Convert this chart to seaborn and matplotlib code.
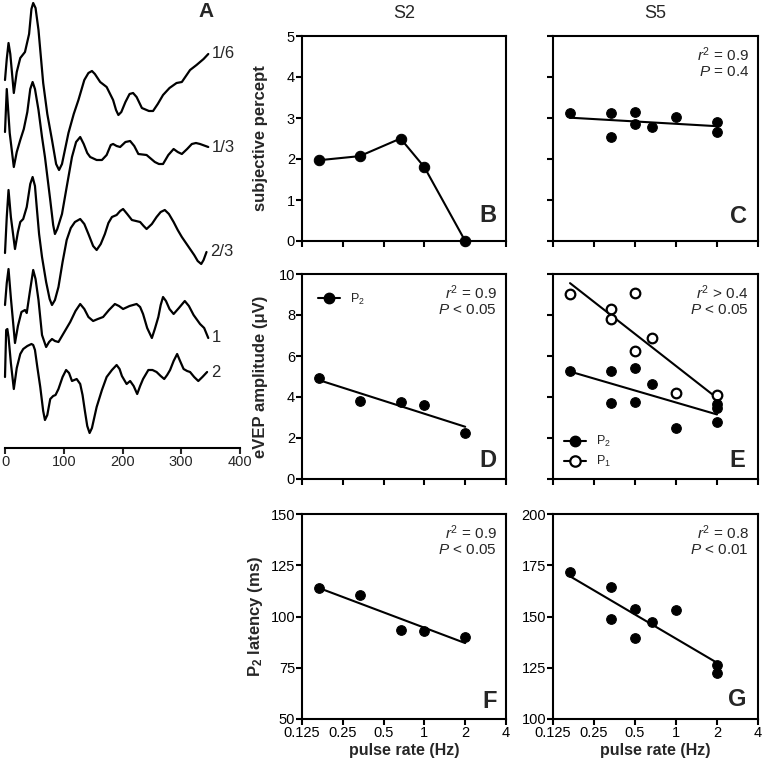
import numpy as np
import matplotlib
matplotlib.use("Agg")
import matplotlib.pyplot as plt
import seaborn as sns
from matplotlib.lines import Line2D
from matplotlib.ticker import FixedLocator, FixedFormatter, NullLocator

# --- Panel A: averaged eVEP traces (time in ms, amplitude in arbitrary units) ---
TRACE_LABELS = ["1/6", "1/3", "2/3", "1", "2"]
TRACE_OFFSETS = [5.4, 14.7, 25.2, 33.8, 37.3]

t_1_6 = [0, 3, 6, 9, 15, 20, 26, 34, 41, 45, 48, 52, 57, 65, 72, 80, 87, 92, 97, 108,
         117, 125, 135, 142, 148, 153, 162, 173, 184, 189, 193, 198, 205, 212, 218, 224,
         233, 245, 252, 260, 269, 280, 292, 301, 308, 315, 326, 338, 346]
a_1_6 = [-2.6, -0.5, 1.1, 0.0, -3.9, -1.8, -0.4, 0.2, 2.0, 4.5, 5.1, 4.6, 2.4, -2.9,
         -6.0, -8.6, -11.0, -11.6, -11.0, -7.9, -6.0, -4.6, -2.6, -1.9, -1.7, -2.0, -2.8,
         -3.3, -4.6, -5.6, -6.1, -5.8, -4.8, -4.0, -3.9, -4.3, -5.4, -5.7, -5.7, -5.0,
         -4.1, -3.4, -2.9, -2.8, -2.2, -1.6, -1.1, -0.5, 0.0]

t_1_3 = [0, 3, 8, 15, 20, 26, 32, 38, 43, 47, 51, 57, 63, 68, 77, 82, 85, 89, 97, 105,
         114, 121, 128, 134, 140, 145, 156, 165, 173, 180, 184, 190, 196, 205, 213, 220,
         227, 241, 255, 262, 269, 278, 287, 294, 301, 310, 318, 325, 332, 346]
a_1_3 = [1.5, 5.8, 1.4, -2.0, -0.5, 0.7, 1.8, 3.5, 5.8, 6.5, 5.8, 3.7, 1.0, -1.0, -5.3,
         -7.8, -8.7, -8.2, -6.7, -4.0, -1.0, 0.5, 1.0, 0.3, -0.6, -1.0, -1.3, -1.3, -0.8,
         0.2, 0.3, 0.1, 0.0, 0.5, 0.6, 0.1, -0.7, -0.8, -1.5, -1.7, -1.7, -0.8, -0.2, -0.5,
         -0.7, -0.2, 0.3, 0.4, 0.3, 0.0]

t_2_3 = [0, 3, 6, 10, 17, 22, 26, 31, 37, 43, 47, 51, 54, 58, 63, 70, 76, 80, 85, 91,
         98, 105, 112, 119, 128, 135, 142, 150, 156, 163, 170, 176, 182, 190, 196, 201,
         208, 216, 230, 236, 241, 250, 258, 265, 272, 279, 287, 294, 301, 308, 315, 322,
         328, 334, 338, 343]
a_2_3 = [-0.1, 3.5, 6.2, 3.5, 0.3, 2.0, 3.0, 3.3, 4.5, 6.8, 7.5, 6.6, 4.5, 1.8, -0.5,
         -3.0, -4.7, -5.3, -4.8, -3.5, -1.0, 1.2, 2.4, 3.0, 3.3, 2.8, 1.8, 0.6, 0.2, 0.8,
         1.8, 2.9, 3.5, 3.7, 4.1, 4.3, 3.8, 3.2, 3.0, 2.6, 2.3, 2.8, 3.5, 4.0, 4.2, 3.8,
         3.0, 2.2, 1.5, 0.9, 0.3, -0.3, -0.9, -1.2, -0.8, 0.0]

t_1 = [0, 3, 6, 10, 17, 22, 28, 34, 37, 42, 48, 52, 57, 63, 70, 75, 80, 85, 91, 100,
       111, 120, 128, 135, 142, 150, 158, 167, 177, 187, 194, 201, 212, 224, 230, 235,
       242, 250, 255, 261, 265, 269, 274, 280, 287, 296, 306, 313, 321, 332, 339, 346]
a_1 = [3.3, 5.5, 6.9, 4.0, -0.5, 1.2, 2.6, 2.8, 2.5, 4.5, 6.8, 5.9, 3.8, 0.3, -0.9,
       -0.4, -0.1, -0.3, -0.4, 0.5, 1.6, 2.7, 3.4, 2.9, 2.1, 1.7, 1.9, 2.1, 2.8, 3.4,
       3.2, 2.9, 3.2, 3.4, 3.1, 2.4, 1.0, 0.0, 0.9, 2.1, 3.3, 4.1, 3.7, 2.9, 2.4, 3.0,
       3.7, 3.2, 2.3, 1.4, 1.0, 0.0]

t_2 = [0, 2, 4, 6, 10, 15, 20, 26, 31, 38, 45, 48, 51, 55, 60, 65, 68, 72, 77, 82, 86,
       91, 98, 104, 109, 114, 122, 128, 132, 136, 140, 144, 148, 156, 165, 173, 182, 190,
       195, 199, 207, 213, 219, 225, 230, 235, 244, 251, 258, 265, 271, 276, 281, 287,
       293, 298, 304, 310, 315, 322, 329, 336, 344]
a_2 = [-0.4, 4.3, 4.4, 3.6, 1.0, -1.6, 0.5, 1.9, 2.4, 2.7, 2.9, 2.8, 2.3, 0.6, -1.4,
       -3.8, -4.7, -4.2, -2.6, -2.3, -2.2, -1.6, -0.4, 0.3, 0.0, -0.8, -0.6, -1.1, -2.2,
       -3.8, -5.3, -6.0, -5.5, -3.4, -1.7, -0.4, 0.3, 0.8, 0.4, -0.3, -1.1, -0.8, -1.3,
       -2.1, -1.3, -0.6, 0.3, 0.3, 0.1, -0.3, -0.6, -0.2, 0.3, 1.2, 1.9, 1.2, 0.4, 0.2,
       0.1, -0.4, -0.8, -0.4, 0.1]

TRACE_T = [t_1_6, t_1_3, t_2_3, t_1, t_2]
TRACE_A = [a_1_6, a_1_3, a_2_3, a_1, a_2]
TIME_TICKS = [0, 100, 200, 300, 400]

# --- Panels B-G: pulse rate (Hz) ---
RATE_TICKS = [0.125, 0.25, 0.5, 1, 2, 4]
RATE_LABELS = ["0.125", "0.25", "0.5", "1", "2", "4"]

s2_rate = [1/6, 1/3, 2/3, 1, 2]
s2_percept = [1.97, 2.07, 2.50, 1.80, 0.00]
s2_amp_p2 = [4.91, 3.80, 3.74, 3.59, 2.26]
s2_lat_p2 = [114.0, 110.3, 93.4, 92.9, 90.2]

s5_rate = [1/6, 1/3, 1/3, 0.5, 0.5, 2/3, 1, 2, 2]
s5_percept = [3.11, 3.11, 2.53, 3.15, 2.85, 2.77, 3.02, 2.90, 2.65]
s5_lat_p2 = [171.8, 164.6, 148.7, 153.6, 139.7, 147.2, 153.1, 126.1, 122.6]

s5_rate_p2 = [1/6, 1/3, 1/3, 0.5, 0.5, 2/3, 1, 2, 2, 2]
s5_amp_p2 = [5.28, 5.28, 3.72, 5.40, 3.77, 4.62, 2.47, 3.48, 3.65, 2.77]
s5_rate_p1 = [1/6, 1/3, 1/3, 0.5, 0.5, 2/3, 1, 2]
s5_amp_p1 = [9.01, 8.28, 7.79, 9.06, 6.24, 6.89, 4.21, 4.10]

STATS = {"C": "$r^2$ = 0.9\n$P$ = 0.4", "D": "$r^2$ = 0.9\n$P$ < 0.05",
         "E": "$r^2$ > 0.4\n$P$ < 0.05", "F": "$r^2$ = 0.9\n$P$ < 0.05",
         "G": "$r^2$ = 0.8\n$P$ < 0.01"}

sns.set_theme(style="ticks")
plt.rcParams['font.family'] = ['Liberation Sans', 'DejaVu Sans']
plt.rcParams['mathtext.fontset'] = 'custom'
plt.rcParams['mathtext.rm'] = 'Liberation Sans'
plt.rcParams['mathtext.it'] = 'Liberation Sans:italic'
plt.rcParams['mathtext.bf'] = 'Liberation Sans:bold'

W, H = 763, 764
fig = plt.figure(figsize=(W / 100, H / 100), dpi=100)


def px_axes(left, top, right, bottom):
    return fig.add_axes([left / W, 1 - bottom / H, (right - left) / W, (bottom - top) / H])


def style_rate_axes(ax, ylim, yticks, xlab, ylab):
    ax.set_xscale('log', base=2)
    ax.set_xlim(0.125, 4)
    ax.xaxis.set_major_locator(FixedLocator(RATE_TICKS))
    ax.xaxis.set_major_formatter(FixedFormatter(RATE_LABELS))
    ax.xaxis.set_minor_locator(NullLocator())
    ax.set_ylim(*ylim)
    ax.set_yticks(yticks)
    for sp in ax.spines.values():
        sp.set_visible(True)
        sp.set_linewidth(1.5)
        sp.set_color('black')
    ax.tick_params(direction='out', length=4, width=1.5, labelsize=10.5, colors='black',
                   labelbottom=xlab, labelleft=ylab, pad=1)
    ax.set_xlabel('')
    ax.set_ylabel('')


def scatter(ax, x, y, filled=True):
    sns.scatterplot(x=x, y=y, ax=ax, s=48, zorder=3, legend=False,
                    color='black' if filled else 'white', edgecolor='black',
                    linewidth=0.8 if filled else 1.6)


def fit(ax, x, y):
    sns.regplot(x=np.array(x), y=np.array(y), ax=ax, logx=True, scatter=False, ci=None,
                truncate=True, color='black', line_kws={'linewidth': 1.5, 'zorder': 2})


def letter(ax, s, x, y):
    ax.text(x, y, s, transform=ax.transAxes, ha='right', va='baseline',
            fontsize=17, fontweight='bold')


def stats(ax, key):
    ax.text(0.955, 0.955, STATS[key], transform=ax.transAxes, ha='right', va='top',
            fontsize=11, linespacing=1.15)


def rate_xlabel(ax):
    ax.set_xlabel('pulse rate (Hz)', fontsize=11.5, fontweight='bold')
    ax.xaxis.set_label_coords(0.5, -0.118)


# --- Panel A ---
axA = px_axes(5, 0, 240, 448)
for t, a, off, lab in zip(TRACE_T, TRACE_A, TRACE_OFFSETS, TRACE_LABELS):
    sns.lineplot(x=t, y=np.array(a) - off, ax=axA, color='black', linewidth=1.6,
                 sort=False, estimator=None)
    axA.text(t[-1] + 6, -off, lab, ha='left', va='center', fontsize=12)
axA.set_xlim(0, 400)
axA.set_ylim(-44.8, 0)
axA.set_xticks(TIME_TICKS)
axA.set_yticks([])
for side in ['left', 'top', 'right']:
    axA.spines[side].set_visible(False)
axA.spines['bottom'].set_linewidth(1.5)
axA.spines['bottom'].set_color('black')
axA.tick_params(axis='x', direction='out', length=4, width=1.5, labelsize=10.5, pad=1)
for line in axA.lines:
    line.set_clip_on(False)
    line.set_solid_joinstyle('round')
axA.text(0.854, 0.974, 'A', transform=axA.transAxes, ha='center', va='center',
         fontsize=15, fontweight='bold')

# --- Panel B ---
axB = px_axes(302, 36, 506, 241)
sns.lineplot(x=s2_rate, y=s2_percept, ax=axB, color='black', linewidth=1.5, marker='o',
             markersize=7.5, markeredgecolor='black', estimator=None)
style_rate_axes(axB, (0, 5), [0, 1, 2, 3, 4, 5], False, True)
for line in axB.lines:
    line.set_clip_on(False)
axB.set_title('S2', fontsize=13, pad=13)
axB.set_ylabel('subjective percept', fontsize=12, fontweight='bold')
axB.yaxis.set_label_coords(-0.168, 0.5)
letter(axB, 'B', 0.955, 0.094)

# --- Panel C ---
axC = px_axes(553, 36, 758, 241)
fit(axC, s5_rate, s5_percept)
scatter(axC, s5_rate, s5_percept)
style_rate_axes(axC, (0, 5), [0, 1, 2, 3, 4, 5], False, False)
axC.set_title('S5', fontsize=13, pad=13)
stats(axC, "C")
letter(axC, 'C', 0.945, 0.089)

# --- Panel D ---
axD = px_axes(302, 274, 506, 479)
fit(axD, s2_rate, s2_amp_p2)
scatter(axD, s2_rate, s2_amp_p2)
style_rate_axes(axD, (0, 10), [0, 2, 4, 6, 8, 10], False, True)
axD.set_ylabel('eVEP amplitude (\u03bcV)', fontsize=12, fontweight='bold')
axD.yaxis.set_label_coords(-0.165, 0.5)
stats(axD, "D")
letter(axD, 'D', 0.955, 0.06)
h_p2 = Line2D([], [], color='black', marker='o', markersize=7.5, linewidth=1.5)
axD.legend(handles=[h_p2], labels=['P$_2$'], loc='upper left', bbox_to_anchor=(0.059, 0.932),
           frameon=False, fontsize=9, handlelength=1.8, handletextpad=0.8,
           borderaxespad=0, borderpad=0.3)

# --- Panel E ---
axE = px_axes(553, 274, 758, 479)
fit(axE, s5_rate_p1, s5_amp_p1)
fit(axE, s5_rate_p2, s5_amp_p2)
scatter(axE, s5_rate_p1, s5_amp_p1, filled=False)
scatter(axE, s5_rate_p2, s5_amp_p2)
style_rate_axes(axE, (0, 10), [0, 2, 4, 6, 8, 10], False, False)
stats(axE, "E")
letter(axE, 'E', 0.937, 0.06)
h_p1 = Line2D([], [], color='black', marker='o', markersize=7.5, linewidth=1.5,
              markerfacecolor='white', markeredgewidth=1.6)
axE.legend(handles=[h_p2, h_p1], labels=['P$_2$', 'P$_1$'], loc='lower left',
           bbox_to_anchor=(0.034, 0.03), frameon=False, fontsize=9, handlelength=1.8,
           handletextpad=0.8, labelspacing=0.4, borderaxespad=0, borderpad=0.3)

# --- Panel F ---
axF = px_axes(302, 514, 506, 719)
fit(axF, s2_rate, s2_lat_p2)
scatter(axF, s2_rate, s2_lat_p2)
style_rate_axes(axF, (50, 150), [50, 75, 100, 125, 150], True, True)
axF.set_ylabel('$\\mathbf{P_2}$ latency (ms)', fontsize=12, fontweight='bold')
axF.yaxis.set_label_coords(-0.181, 0.5)
rate_xlabel(axF)
stats(axF, "F")
letter(axF, 'F', 0.955, 0.052)

# --- Panel G ---
axG = px_axes(553, 514, 758, 719)
fit(axG, s5_rate, s5_lat_p2)
scatter(axG, s5_rate, s5_lat_p2)
style_rate_axes(axG, (100, 200), [100, 125, 150, 175, 200], True, True)
rate_xlabel(axG)
stats(axG, "G")
letter(axG, 'G', 0.945, 0.065)

fig.savefig('out.png', dpi=100)
